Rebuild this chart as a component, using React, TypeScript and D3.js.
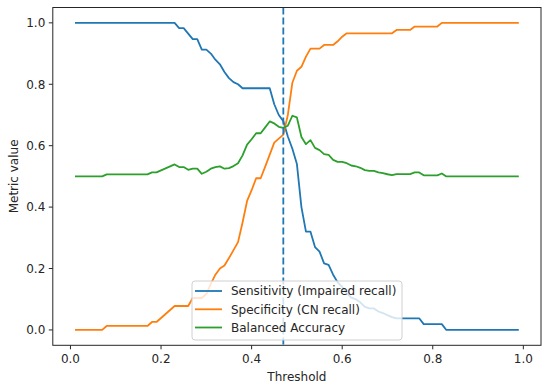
import React from "react";
import * as d3 from "d3";

// Thresholds 0.01 .. 0.99
const thresholds: number[] = d3.range(1, 100).map((i) => i / 100);

const sensitivity: number[] = [
  1, 1, 1, 1, 1, 1, 1, 1, 1, 1, 1, 1, 1, 1, 1, 1, 1, 1, 1, 1, 1, 1, 1,
  0.983, 0.983, 0.965, 0.947, 0.947, 0.913, 0.913, 0.9, 0.88, 0.865, 0.84, 0.82, 0.807, 0.8,
  0.787, 0.787, 0.787, 0.787, 0.787, 0.787, 0.787,
  0.735, 0.7, 0.68, 0.63, 0.59, 0.54, 0.4, 0.32, 0.32, 0.27, 0.255, 0.217, 0.212, 0.18,
  0.155, 0.14, 0.12, 0.105, 0.1, 0.09, 0.075, 0.07, 0.07, 0.06, 0.055, 0.048, 0.042,
  0.038, 0.038, 0.038, 0.038, 0.038, 0.038,
  0.019, 0.019, 0.019, 0.019, 0.019,
  0, 0, 0, 0, 0, 0, 0, 0, 0, 0, 0, 0, 0, 0, 0, 0, 0,
];

const specificity: number[] = [
  0, 0, 0, 0, 0, 0, 0,
  0.013, 0.013, 0.013, 0.013, 0.013, 0.013, 0.013, 0.013, 0.013, 0.013,
  0.026, 0.026, 0.039, 0.052, 0.065, 0.078, 0.078, 0.078, 0.078, 0.104, 0.104, 0.104,
  0.117, 0.15, 0.18, 0.2, 0.21, 0.234, 0.26, 0.286, 0.35, 0.42, 0.455, 0.494, 0.494,
  0.532, 0.571, 0.61, 0.623, 0.636, 0.7, 0.805, 0.844, 0.857, 0.89, 0.916, 0.916, 0.916,
  0.928, 0.928, 0.928, 0.94, 0.955,
  0.966, 0.966, 0.966, 0.966, 0.966, 0.966, 0.966, 0.966, 0.966, 0.966, 0.966,
  0.977, 0.977, 0.977, 0.977,
  0.988, 0.988, 0.988, 0.988, 0.988, 0.988,
  1, 1, 1, 1, 1, 1, 1, 1, 1, 1, 1, 1, 1, 1, 1, 1, 1, 1,
];

const balancedAccuracy: number[] = [
  0.5, 0.5, 0.5, 0.5, 0.5, 0.5, 0.5,
  0.5065, 0.5065, 0.5065, 0.5065, 0.5065, 0.5065, 0.5065, 0.5065, 0.5065, 0.5065,
  0.513, 0.513, 0.5195, 0.526, 0.5325, 0.539, 0.5305, 0.5305, 0.5215, 0.5255, 0.5255,
  0.5085, 0.515, 0.525, 0.53, 0.5325, 0.525, 0.527, 0.5335, 0.543, 0.5685, 0.6035,
  0.621, 0.6405, 0.6405, 0.6595, 0.679, 0.6725, 0.6615, 0.658, 0.665, 0.6975, 0.692,
  0.6285, 0.605, 0.618, 0.593, 0.5855, 0.5725, 0.57, 0.554, 0.5475, 0.5475, 0.543,
  0.5355, 0.533, 0.528, 0.5205, 0.518, 0.518, 0.513, 0.5105, 0.507, 0.504,
  0.5075, 0.5075, 0.5075, 0.5075,
  0.513, 0.513,
  0.5035, 0.5035, 0.5035, 0.5035,
  0.5095,
  0.5, 0.5, 0.5, 0.5, 0.5, 0.5, 0.5, 0.5, 0.5, 0.5, 0.5, 0.5, 0.5, 0.5, 0.5, 0.5, 0.5,
];

const seriesNames: string[] = [
  "Sensitivity (Impaired recall)",
  "Specificity (CN recall)",
  "Balanced Accuracy",
];
const seriesColors: string[] = ["#1f77b4", "#ff7f0e", "#2ca02c"];
const xTicks: number[] = [0, 0.2, 0.4, 0.6, 0.8, 1.0];
const yTicks: number[] = [0, 0.2, 0.4, 0.6, 0.8, 1.0];
const bestThreshold = 0.47;

const W = 550;
const H = 389;
const FONT = "DejaVu Sans, sans-serif";
const FS = 12;

export default function App() {
  const left = 52.8, right = 541, top = 7.5, bottom = 345.3;
  const x = d3.scaleLinear().domain([-0.039, 1.039]).range([left, right]);
  const y = d3.scaleLinear().domain([-0.05, 1.05]).range([bottom, top]);
  const all = [sensitivity, specificity, balancedAccuracy];
  const line = (vals: number[]) =>
    d3
      .line<number>()
      .x((_, i) => x(thresholds[i]))
      .y((d) => y(d))(vals) as string;

  const legX = 192, legY = 281, legW = 210, legH = 59;
  const rowY = [291, 309.3, 327.5];

  return (
    <svg
      width={W}
      height={H}
      style={{ position: "absolute", left: 0, top: 0, background: "#fff" }}
      fontFamily={FONT}
    >
      <rect x={0} y={0} width={W} height={H} fill="#fff" />
      <defs>
        <clipPath id="plot">
          <rect x={left} y={top} width={right - left} height={bottom - top} />
        </clipPath>
      </defs>
      <g clipPath="url(#plot)">
        {all.map((vals, k) => (
          <path
            key={k}
            d={line(vals)}
            fill="none"
            stroke={seriesColors[k]}
            strokeWidth={1.8}
            strokeLinejoin="round"
          />
        ))}
        <line
          x1={x(bestThreshold)}
          x2={x(bestThreshold)}
          y1={top}
          y2={bottom}
          stroke={seriesColors[0]}
          strokeWidth={1.8}
          strokeDasharray="7,3"
        />
      </g>
      {/* frame */}
      <rect
        x={left}
        y={top}
        width={right - left}
        height={bottom - top}
        fill="none"
        stroke="#262626"
        strokeWidth={1}
      />
      {/* x ticks */}
      {xTicks.map((t) => (
        <g key={"x" + t}>
          <line x1={x(t)} x2={x(t)} y1={bottom} y2={bottom + 4} stroke="#262626" strokeWidth={1} />
          <text x={x(t)} y={bottom + 18} fontSize={FS} textAnchor="middle" fill="#262626">
            {t.toFixed(1)}
          </text>
        </g>
      ))}
      {/* y ticks */}
      {yTicks.map((t) => (
        <g key={"y" + t}>
          <line x1={left - 4} x2={left} y1={y(t)} y2={y(t)} stroke="#262626" strokeWidth={1} />
          <text x={left - 7.5} y={y(t) + 4.3} fontSize={FS} textAnchor="end" fill="#262626">
            {t.toFixed(1)}
          </text>
        </g>
      ))}
      <text x={(left + right) / 2} y={381} fontSize={FS} textAnchor="middle" fill="#262626">
        Threshold
      </text>
      <text
        transform={`translate(18, ${(top + bottom) / 2}) rotate(-90)`}
        fontSize={FS}
        textAnchor="middle"
        fill="#262626"
      >
        Metric value
      </text>
      {/* legend */}
      <rect
        x={legX}
        y={legY}
        width={legW}
        height={legH}
        rx={3}
        fill="#fff"
        fillOpacity={0.8}
        stroke="#d0d0d0"
        strokeWidth={1}
      />
      {seriesNames.map((name, k) => (
        <g key={name}>
          <line
            x1={195}
            x2={222}
            y1={rowY[k]}
            y2={rowY[k]}
            stroke={seriesColors[k]}
            strokeWidth={1.8}
          />
          <text x={231} y={rowY[k] + 4.3} fontSize={FS} fill="#262626">
            {name}
          </text>
        </g>
      ))}
    </svg>
  );
}
